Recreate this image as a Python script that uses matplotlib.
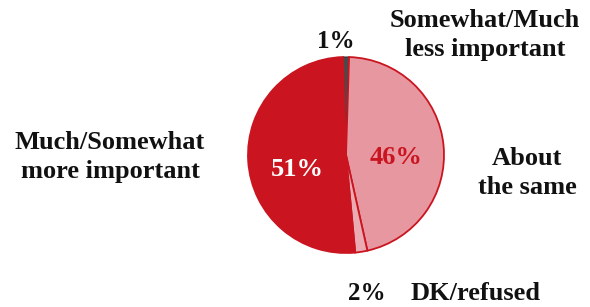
import matplotlib
matplotlib.use("Agg")
import matplotlib.pyplot as plt

plt.rcParams["font.family"] = ["Liberation Serif", "DejaVu Serif"]
plt.rcParams["font.weight"] = "bold"

# 数据（顺时针，从顶部开始）
labels = ["Somewhat/Much\nless important", "About\nthe same", "DK/refused", "Much/Somewhat\nmore important"]
values = [1, 46, 2, 51]
colors = ["#4a4a4a", "#e697a0", "#ebabb2", "#ca1520"]

fig = plt.figure(figsize=(5.9, 3.07), dpi=100)
ax = fig.add_axes([0, 0, 1, 1])

start = 90 + values[0] / 100 * 360 / 2
wedges, _ = ax.pie(values, colors=colors, startangle=start, counterclock=False,
                   center=(346, 307 - 155), radius=98, frame=True,
                   wedgeprops=dict(edgecolor="#ca1520", linewidth=1.3))
wedges[0].set_edgecolor("#333333")
wedges[0].set_linewidth(0.8)

ax.set_xlim(0, 590)
ax.set_ylim(0, 307)
ax.set_aspect("equal")
ax.axis("off")

def y(v):
    return 307 - v

# 饼内百分比
ax.text(297, y(170), "%d%%" % values[3], color="white", fontsize=19, ha="center", va="center")
ax.text(396, y(157), "%d%%" % values[1], color="#ca1520", fontsize=19, ha="center", va="center")

# 外部标签
ax.text(336, y(42), "%d%%" % values[0], color="#111111", fontsize=18, ha="center", va="center")
ax.text(367, y(294), "%d%%" % values[2], color="#111111", fontsize=18, ha="center", va="center")
ax.text(485, y(35), labels[0], color="#111111", fontsize=19, ha="center", va="center", linespacing=1.3)
ax.text(527, y(173), labels[1], color="#111111", fontsize=19, ha="center", va="center", linespacing=1.3)
ax.text(476, y(294), labels[2], color="#111111", fontsize=19, ha="center", va="center")
ax.text(110, y(157), labels[3], color="#111111", fontsize=19, ha="center", va="center", linespacing=1.3)

fig.savefig("out.png", dpi=100)
